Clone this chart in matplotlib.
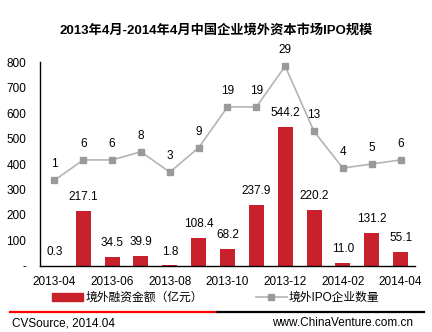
import matplotlib
matplotlib.use("Agg")
import matplotlib.pyplot as plt
from matplotlib.lines import Line2D

plt.rcParams['font.family'] = ['Liberation Sans', 'Noto Sans CJK SC', 'DejaVu Sans']

# data
months = ['2013-04', '2013-05', '2013-06', '2013-07', '2013-08', '2013-09', '2013-10',
          '2013-11', '2013-12', '2014-01', '2014-02', '2014-03', '2014-04']
amount = [0.3, 217.1, 34.5, 39.9, 1.8, 108.4, 68.2, 237.9, 544.2, 220.2, 11.0, 131.2, 55.1]
ipo_count = [1, 6, 6, 8, 3, 9, 19, 19, 29, 13, 4, 5, 6]
yticks = [0, 100, 200, 300, 400, 500, 600, 700, 800]
ytick_labels = ['-', '100', '200', '300', '400', '500', '600', '700', '800']

bar_color = '#c9212b'
line_color = '#b4b4b4'
marker_color = '#9a9a9a'

fig = plt.figure(figsize=(4.32, 3.32), dpi=100)
ax = fig.add_axes([0.0926, 0.199, 0.868, 0.614])
x = list(range(len(months)))

bars = ax.bar(x, amount, width=0.52, color=bar_color, zorder=2)
ax.set_xlim(-0.5, 12.5)
ax.set_ylim(0, 800)
ax.set_yticks(yticks)
ax.set_yticklabels(ytick_labels)
ax.set_xticks(x[::2])
ax.set_xticklabels(months[::2])
ax.tick_params(axis='both', length=0, labelsize=8.5, colors='black')
ax.tick_params(axis='y', pad=10)
ax.tick_params(axis='x', pad=7)
for s in ['top', 'right']:
    ax.spines[s].set_visible(False)
ax.spines['left'].set_linewidth(1.0)
ax.spines['bottom'].set_linewidth(1.0)

for xi, v in zip(x, amount):
    ax.annotate('%.1f' % v, (xi, v), xytext=(0, 10), textcoords='offset points',
                ha='center', va='center', fontsize=8.5)

# IPO count on a hidden second axis
ax2 = ax.twinx()
ax2.plot(x, ipo_count, color=line_color, lw=1.2, marker='s', markersize=4,
         markerfacecolor=marker_color, markeredgecolor=marker_color, zorder=3)
ax2.set_ylim(-20, 30)
ax2.axis('off')
for xi, c in zip(x, ipo_count):
    ax2.annotate(str(c), (xi, c), xytext=(0, 11.5), textcoords='offset points',
                 ha='center', va='center', fontsize=8.5)

fig.text(0.5, 0.91, '2013年4月-2014年4月中国企业境外资本市场IPO规模',
         ha='center', va='center', fontsize=9.5, fontweight='bold')

handles = [plt.Rectangle((0, 0), 1, 1, color=bar_color),
           Line2D([], [], color=line_color, lw=1.2, marker='s', markersize=4,
                  markerfacecolor=marker_color, markeredgecolor=marker_color)]
fig.legend(handles, ['境外融资金额（亿元）', '境外IPO企业数量'], loc='center',
           bbox_to_anchor=(0.5, 0.102), ncol=2, frameon=False, fontsize=8.5,
           handlelength=2.6, handleheight=0.6, columnspacing=4.5, handletextpad=0.2)

# footer rule and source text
fig.add_artist(Line2D([0.023, 0.502], [0.06, 0.06], color='#ff0000', lw=1.6))
fig.add_artist(Line2D([0.502, 0.981], [0.06, 0.06], color='black', lw=1.6))
fig.text(0.028, 0.027, 'CVSource, 2014.04', ha='left', va='center', fontsize=8.5)
fig.text(0.956, 0.027, 'www.ChinaVenture.com.cn', ha='right', va='center', fontsize=8.5)

fig.savefig('out.png', dpi=100)
